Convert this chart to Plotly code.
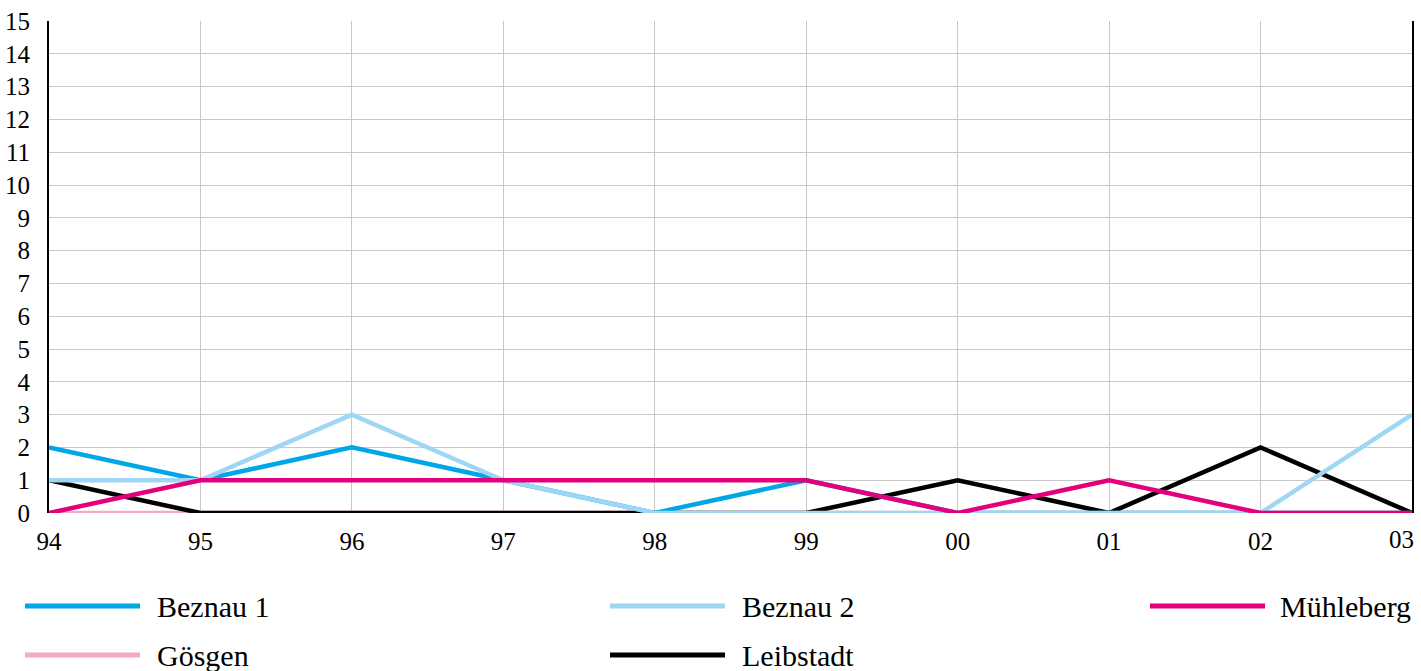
import plotly.graph_objects as go

years = ["94", "95", "96", "97", "98", "99", "00", "01", "02", "03"]
beznau1 = [2, 1, 2, 1, 0, 1, 0, 0, 0, 0]
beznau2 = [1, 1, 3, 1, 0, 0, 0, 0, 0, 3]
muehleberg = [0, 1, 1, 1, 1, 1, 0, 1, 0, 0]
goesgen = [0, 0, 0, 0, 0, 0, 0, 0, 0, 0]
leibstadt = [1, 0, 0, 0, 0, 0, 1, 0, 2, 0]

names = ["Beznau 1", "Beznau 2", "Mühleberg", "Gösgen", "Leibstadt"]
colors = ["#00A7E6", "#9ED6F4", "#E4007D", "#F5A9C7", "#000000"]
series = [beznau1, beznau2, muehleberg, goesgen, leibstadt]

x = list(range(len(years)))
FONT = "Liberation Serif, Times New Roman, serif"

fig = go.Figure()
draw_order = [3, 4, 0, 1, 2]
for i in draw_order:
    fig.add_trace(go.Scatter(x=x, y=series[i], mode="lines", name=names[i],
                             line=dict(color=colors[i], width=4.5),
                             showlegend=False, cliponaxis=False))

W, H = 1421, 671
ml, mr, mt, mb = 49, 9, 21, 158
pw, ph = W - ml - mr, H - mt - mb
def px(xp):
    return (xp - ml) / pw
def py(yp):
    return (H - mb - yp) / ph

# manual legend (3 columns, 2 rows)
cols_line = [(25, 140), (610, 725), (1150, 1265)]
text_x = [155, 740, 1278]
rows_y = [606, 655]
for k, name in enumerate(names):
    r, c = divmod(k, 3)
    x0, x1 = cols_line[c]
    yy = rows_y[r]
    fig.add_shape(type="line", xref="paper", yref="paper",
                  x0=px(x0), x1=px(x1), y0=py(yy), y1=py(yy),
                  line=dict(color=colors[k], width=5))
    fig.add_annotation(xref="paper", yref="paper", x=px(text_x[c]), y=py(yy),
                       text=name, showarrow=False, xanchor="left", yanchor="middle",
                       font=dict(family=FONT, size=30, color="#000"))

# last category label is pushed inside the chart edge, as in the reference
ticktext = years[:-1] + [""]
fig.add_annotation(xref="x", yref="paper", x=x[-1], y=0, text=years[-1],
                   showarrow=False, xanchor="right", yanchor="top", xshift=4, yshift=-11,
                   font=dict(family=FONT, size=25, color="#000"))

fig.update_layout(
    width=W, height=H,
    margin=dict(l=ml, r=mr, t=mt, b=mb, autoexpand=False),
    paper_bgcolor="white", plot_bgcolor="white",
    font=dict(family=FONT, size=25, color="#000"),
    showlegend=False,
    xaxis=dict(range=[0, 9], tickvals=x, ticktext=ticktext, showgrid=True,
               gridcolor="#C8C8C8", gridwidth=1, zeroline=False, showline=False,
               ticks="", ticklabelstandoff=11, fixedrange=True, automargin=False),
    yaxis=dict(range=[0, 15], tickvals=list(range(16)), showgrid=True,
               gridcolor="#C8C8C8", gridwidth=1, zeroline=False,
               showline=True, linecolor="#000", linewidth=2, mirror=True,
               ticks="", ticklabelstandoff=12, fixedrange=True, automargin=False),
)

fig.write_html("out.html", config={"displayModeBar": False},
               post_script="document.body.style.margin='0';document.body.style.padding='0';document.body.style.overflow='hidden';")
